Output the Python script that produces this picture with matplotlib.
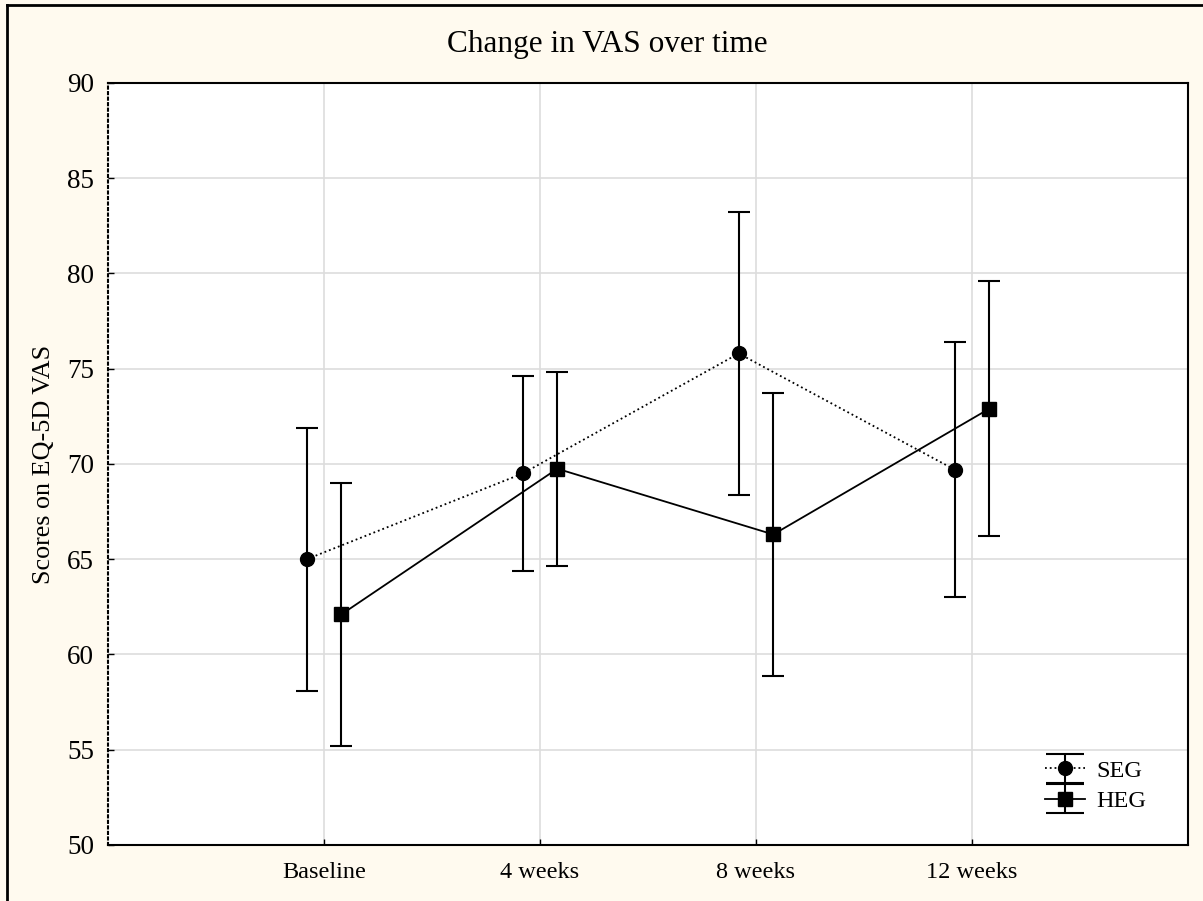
import numpy as np
import matplotlib.pyplot as plt
from matplotlib.lines import Line2D
from matplotlib.legend_handler import HandlerErrorbar

plt.rcParams['font.family'] = ['Liberation Serif', 'DejaVu Serif']

timepoints = ["Baseline", "4 weeks", "8 weeks", "12 weeks"]
seg_mean = [65.0, 69.5, 75.8, 69.7]
seg_err = [6.9, 5.1, 7.45, 6.7]
heg_mean = [62.1, 69.75, 66.3, 72.9]
heg_err = [6.9, 5.1, 7.45, 6.7]

bg = "#FFFAEF"
fig = plt.figure(figsize=(12.03, 9.01), dpi=100, facecolor=bg)
ax = fig.add_axes([0.0898, 0.0622, 0.8977, 0.8457])
ax.set_facecolor("white")

x = np.arange(len(timepoints))
off = 0.08

seg_style = dict(color="black", ls=":", lw=1.3, marker="o", ms=10)
heg_style = dict(color="black", ls="-", lw=1.3, marker="s", ms=9.5)

ax.errorbar(x - off, seg_mean, yerr=seg_err, capsize=8, capthick=1.5,
            elinewidth=1.5, zorder=3, **seg_style)
ax.errorbar(x + off, heg_mean, yerr=heg_err, capsize=8, capthick=1.5,
            elinewidth=1.5, zorder=3, **heg_style)

# legend proxies with wider caps
p1 = ax.errorbar([np.nan], [np.nan], yerr=[1], capsize=14, capthick=1.5,
                 elinewidth=1.5, label="SEG", **seg_style)
p2 = ax.errorbar([np.nan], [np.nan], yerr=[1], capsize=14, capthick=1.5,
                 elinewidth=1.5, label="HEG", **heg_style)

ax.set_xlim(-1, 4)
ax.set_ylim(50, 90)
ax.set_xticks(x)
ax.set_xticklabels(timepoints)
ax.set_yticks(np.arange(50, 91, 5))
ax.tick_params(direction="in", length=4, width=1)
ax.tick_params(axis="x", labelsize=17.5, pad=12)
ax.tick_params(axis="y", labelsize=19.5, pad=10)
ax.grid(True, color="#DDDDDD", lw=1.2)
ax.set_axisbelow(True)

for s in ["top", "bottom", "right"]:
    ax.spines[s].set_linewidth(1.5)
ax.spines["left"].set_linestyle(":")
ax.spines["left"].set_linewidth(1.5)

fig.text(0.505, 0.951, "Change in VAS over time", fontsize=22.5,
         ha="center", va="center")
ax.set_ylabel("Scores on EQ-5D VAS", fontsize=18.8)
ax.yaxis.set_label_coords(-0.049, 0.5)

ax.legend(handles=[p1, p2], loc="lower right", frameon=False, fontsize=17.5,
          bbox_to_anchor=(0.982, 0.014), handlelength=1.65, handletextpad=0.5,
          labelspacing=0.35,
          handler_map={type(p1): HandlerErrorbar(yerr_size=0.6)})

# outer frame (left and top edges)
fig.add_artist(Line2D([0.006, 0.006], [0, 0.994], transform=fig.transFigure,
                      color="black", lw=2))
fig.add_artist(Line2D([0.006, 1.0], [0.994, 0.994], transform=fig.transFigure,
                      color="black", lw=2))

fig.savefig("out.png", dpi=100, facecolor=bg)
